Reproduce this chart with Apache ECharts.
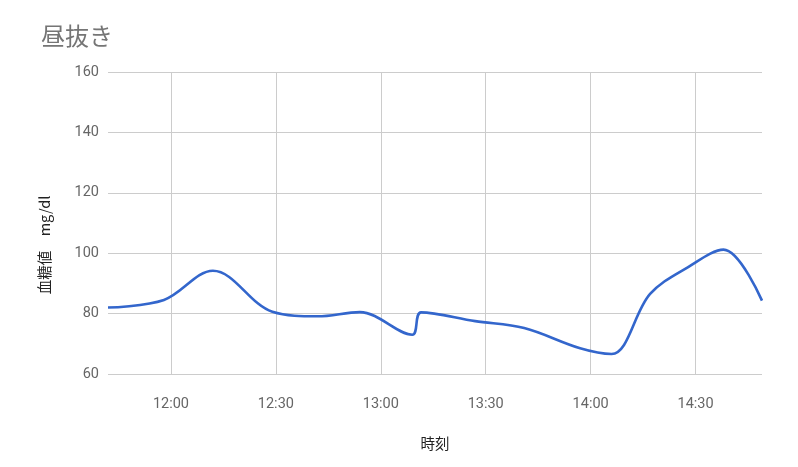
<!DOCTYPE html>
<html>
<head>
<meta charset="utf-8">
<script src="https://cdn.jsdelivr.net/npm/echarts@6/dist/echarts.min.js"></script>
<style>html,body{margin:0;padding:0;background:#fff;}#c{width:798px;height:467px;}</style>
</head>
<body>
<div id="c"></div>
<script>
// minutes since midnight
const times = [702, 718, 732, 749, 762, 774, 789, 791.5, 807, 821, 837, 846, 857, 868, 878, 889];
const glucose = [82.0, 84.5, 94.2, 80.6, 79.1, 80.5, 73.0, 80.4, 77.5, 75.2, 68.5, 66.6, 86.5, 95.5, 101.2, 84.3];
const xTicks = [720, 750, 780, 810, 840, 870];
const yTicks = [60, 80, 100, 120, 140, 160];

function fmt(v) {
  const h = Math.floor(v / 60), m = Math.round(v % 60);
  return h + ':' + (m < 10 ? '0' + m : m);
}

const chart = echarts.init(document.getElementById('c'), null, {renderer: 'canvas'});
chart.setOption({
  animation: false,
  backgroundColor: '#fff',
  title: {
    text: '昼抜き',
    left: 36, top: 19,
    textStyle: {fontFamily: 'Noto Sans CJK JP', fontSize: 24, fontWeight: 'normal', color: '#757575'}
  },
  grid: {left: 108, right: 36, top: 72, bottom: 93},
  xAxis: {
    type: 'value',
    min: times[0], max: times[times.length - 1],
    name: '時刻',
    nameLocation: 'middle',
    nameGap: 62,
    nameTextStyle: {fontFamily: 'Noto Sans CJK JP', fontSize: 14.5, color: '#222'},
    axisLine: {show: false},
    axisTick: {show: false, customValues: xTicks},
    axisLabel: {customValues: xTicks, formatter: fmt, margin: 23, fontFamily: 'Roboto', fontSize: 14.5, color: '#666'},
    splitLine: {show: true, lineStyle: {color: '#cccccc', width: 1}}
  },
  yAxis: {
    type: 'value',
    min: yTicks[0], max: yTicks[yTicks.length - 1], interval: 20,
    name: '血糖値　mg/dl',
    nameLocation: 'middle',
    nameGap: 56,
    nameTextStyle: {fontFamily: 'Noto Sans CJK JP', fontSize: 14.5, color: '#222', padding: [0, 44, 0, 0]},
    axisLine: {show: false},
    axisTick: {show: false},
    axisLabel: {margin: 9, fontFamily: 'Roboto', fontSize: 14.5, color: '#666'},
    splitLine: {show: true, lineStyle: {color: '#cccccc', width: 1}}
  },
  series: [{
    type: 'line',
    data: times.map((t, i) => [t, glucose[i]]),
    smooth: 0.35,
    showSymbol: false,
    lineStyle: {color: '#3366cc', width: 2.6},
    itemStyle: {color: '#3366cc'}
  }]
});
</script>
</body>
</html>
